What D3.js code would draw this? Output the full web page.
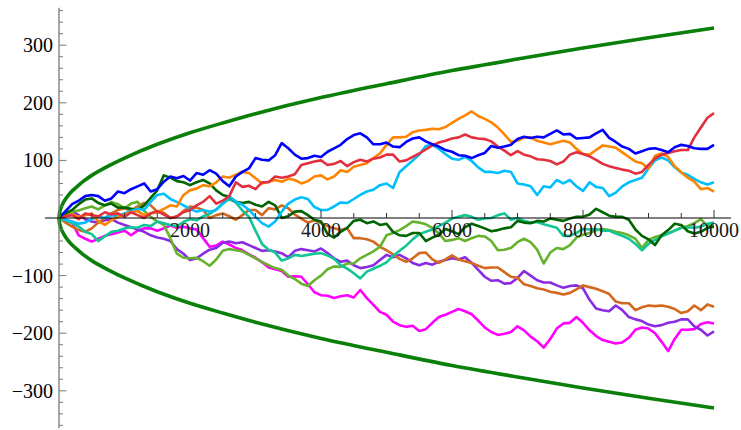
<!DOCTYPE html>
<html>
<head>
<meta charset="utf-8">
<script src="https://cdn.jsdelivr.net/npm/d3@7/dist/d3.min.js"></script>
<style>
  html, body { margin: 0; padding: 0; background: #fff; }
  svg { display: block; }
</style>
</head>
<body>
<svg id="chart" width="741" height="430"></svg>
<script>
// Step index shared by every walk (one sample every 100 steps)
const steps = d3.range(0, 10001, 100);

// Ten random-walk paths, position after each sampled step (rows of 1000 steps)
const walkBlue = [
  0,12,24,30,38,40,38,30,34,46,
  43,50,55,60,46,50,63,72,69,73,
  65,78,75,83,77,64,55,72,80,86,
  104,101,100,109,130,121,110,103,104,108,
  106,115,121,127,137,144,147,140,128,128,
  131,124,123,132,138,140,133,128,124,118,
  115,109,108,104,109,113,125,122,124,127,
  137,141,139,141,140,146,152,145,146,138,
  139,140,147,153,139,132,124,120,112,116,
  120,121,118,114,123,127,125,121,120,120,
  127];
const walkRed = [
  0,3,5,-2,8,5,3,10,6,8,
  2,10,5,0,8,12,6,0,3,10,
  14,22,28,38,25,30,38,62,54,56,
  50,62,62,72,70,72,76,92,95,98,
  100,92,94,99,90,97,101,98,103,105,
  110,110,98,100,106,112,119,126,131,134,
  138,140,145,140,138,137,133,124,117,109,
  116,110,107,102,101,99,93,98,110,114,
  111,107,101,94,90,87,84,82,77,80,
  92,103,110,113,116,118,118,140,157,174,
  182];
const walkOrange = [
  0,3,6,2,5,8,-6,-12,-4,2,
  6,10,12,5,8,10,16,22,20,40,
  48,51,57,55,62,72,70,75,80,78,
  69,60,63,66,63,68,66,60,64,72,
  74,67,72,83,80,89,92,95,104,112,
  127,140,140,141,149,152,153,155,154,158,
  165,172,178,185,177,172,166,157,145,132,
  134,140,140,134,131,128,131,134,131,120,
  111,110,118,126,124,122,114,106,98,95,
  86,108,112,106,90,79,70,63,50,52,
  46];
const walkSky = [
  0,-3,-6,-10,-8,-2,3,0,5,3,
  8,12,16,14,28,40,42,33,28,22,
  16,11,14,11,14,25,38,28,23,14,
  2,-9,-15,-6,11,25,32,36,33,19,
  14,14,20,27,26,33,40,46,49,57,
  60,52,80,90,100,110,125,127,120,111,
  103,101,106,99,88,80,80,78,82,80,
  60,58,55,40,55,53,66,60,66,55,
  47,62,54,52,38,44,55,62,66,70,
  86,100,105,100,88,79,75,68,62,58,
  62];
const walkForest = [
  0,8,14,24,32,34,26,22,25,18,
  18,16,14,22,35,48,74,70,64,62,
  57,62,66,60,48,40,37,28,26,28,
  23,20,28,22,0,3,11,12,5,-3,
  -6,-28,-34,-24,-17,-5,-3,-9,-6,-12,
  -10,-24,-30,-31,-26,-26,-40,-34,-29,-19,
  -23,-28,-16,-10,-14,-18,-23,-21,-18,-16,
  -5,-8,-9,-5,-6,-1,-3,-5,-1,2,
  2,6,16,10,4,2,2,-3,-20,-31,
  -37,-47,-30,-21,-10,-12,-23,-27,-24,-17,
  -15];
const walkTeal = [
  0,-4,-9,-15,-24,-28,-40,-32,-24,-22,
  -18,-16,-17,-12,-14,-6,-9,-12,-14,-7,
  -2,-4,3,7,15,25,33,27,13,2,
  -22,-45,-55,-60,-74,-70,-64,-66,-64,-62,
  -61,-65,-71,-82,-88,-96,-105,-93,-88,-83,
  -77,-66,-57,-48,-37,-28,-24,-20,-14,-8,
  -1,2,5,2,-3,-1,0,5,8,-3,
  0,-5,-8,-7,-11,-14,-17,-31,-31,-26,
  -19,-20,-19,-22,-22,-27,-31,-36,-45,-56,
  -45,-38,-32,-27,-22,-17,-16,-17,-15,-10,
  -8];
const walkLime = [
  0,3,11,13,17,20,15,22,28,24,
  17,25,28,12,2,-6,-12,-35,-62,-69,
  -70,-69,-75,-83,-72,-57,-54,-56,-58,-64,
  -70,-76,-82,-87,-90,-100,-106,-114,-118,-108,
  -100,-89,-84,-85,-79,-79,-70,-64,-58,-50,
  -30,-26,-21,-14,-6,-8,-11,-17,-27,-40,
  -38,-35,-40,-35,-31,-32,-40,-56,-55,-52,
  -42,-36,-42,-55,-79,-60,-52,-54,-47,-34,
  -29,-26,-21,-19,-21,-24,-26,-30,-36,-52,
  -38,-33,-30,-27,-22,-17,-14,-9,-2,-14,
  -12];
const walkBrown = [
  0,-8,-15,-21,-24,-18,-8,0,8,14,
  17,13,20,26,22,11,9,0,2,12,
  20,18,14,0,5,8,3,-3,5,14,
  14,5,17,15,22,17,6,-1,-8,-4,
  -9,-14,-18,-21,-18,-35,-35,-37,-41,-50,
  -56,-63,-71,-76,-70,-61,-60,-72,-78,-72,
  -65,-72,-75,-78,-83,-87,-86,-86,-94,-102,
  -104,-115,-118,-122,-124,-128,-130,-133,-130,-124,
  -117,-120,-123,-127,-132,-145,-148,-148,-160,-155,
  -152,-153,-152,-154,-158,-165,-162,-152,-160,-150,
  -154];
const walkPurple = [
  0,8,12,5,-2,-6,-8,-4,-2,-8,
  -12,-16,-20,-24,-30,-34,-36,-40,-54,-62,
  -73,-70,-62,-55,-52,-43,-41,-44,-42,-47,
  -52,-57,-56,-58,-61,-68,-57,-54,-56,-58,
  -53,-61,-70,-76,-74,-82,-87,-85,-82,-73,
  -64,-68,-64,-70,-78,-82,-78,-81,-76,-73,
  -70,-72,-68,-78,-90,-102,-109,-108,-114,-113,
  -104,-92,-100,-108,-112,-112,-117,-121,-118,-117,
  -122,-142,-157,-160,-162,-152,-160,-172,-176,-179,
  -185,-188,-186,-182,-180,-176,-176,-188,-194,-204,
  -197];
const walkMagenta = [
  0,-3,-8,-30,-36,-41,-36,-31,-28,-25,
  -22,-30,-22,-18,-18,-22,-18,-13,-17,-15,
  -18,-20,-35,-50,-48,-41,-46,-52,-56,-63,
  -69,-77,-86,-89,-92,-102,-101,-102,-115,-129,
  -134,-135,-139,-136,-134,-138,-125,-139,-151,-163,
  -168,-180,-186,-189,-187,-196,-193,-182,-172,-168,
  -163,-158,-162,-167,-178,-190,-198,-203,-201,-198,
  -188,-195,-206,-214,-225,-210,-192,-183,-182,-172,
  -182,-195,-205,-212,-215,-218,-216,-208,-194,-190,
  -192,-200,-215,-231,-210,-194,-194,-193,-184,-181,
  -183];

const walkColors = ["#ff00ff", "#8a2be2", "#d2691e", "#66b22d", "#12c596", "#006400", "#00bfff", "#ff8400", "#e2303e", "#0000ff"];
const walks = [walkMagenta, walkPurple, walkBrown, walkLime, walkTeal, walkForest, walkSky, walkOrange, walkRed, walkBlue];

// Envelope curves (upper and lower bound) sampled at these steps
const envelopeSteps = [0, 10, 25, 50, 100, 175, 250, 375, 500, 750, 1000, 1500, 2000, 2500, 3000, 4000, 5000, 6000, 7000, 8000, 9000, 10000];
const envelopeUpper = [0, 10, 16, 23, 33, 44, 52, 64, 74, 90, 104, 128, 148, 165, 181, 209, 233, 256, 276, 295, 313, 330];
const envelopeLower = [0, -10, -16, -23, -33, -44, -52, -64, -74, -90, -104, -128, -148, -165, -181, -209, -233, -256, -276, -295, -313, -330];

// Axis ticks
const xMajorTicks = [2000, 4000, 6000, 8000, 10000];
const xMinorTicks = d3.range(500, 10001, 500);
const yMajorTicks = [-300, -200, -100, 100, 200, 300];
const yMinorTicks = d3.range(-360, 361, 20);

const labelFont = "'Liberation Serif', 'Times New Roman', Times, 'DejaVu Serif', serif";

const svg = d3.select("#chart");
const x = d3.scaleLinear().domain([0, 10000]).range([59, 714]);
const y = d3.scaleLinear().domain([-300, 300]).range([390.8, 45.2]);

// walks
const walkLine = d3.line()
  .x((d, i) => x(steps[i]))
  .y(d => y(d))
  .curve(d3.curveLinear);

svg.append("g")
  .selectAll("path")
  .data(walks)
  .join("path")
  .attr("d", d => walkLine(d))
  .attr("fill", "none")
  .attr("stroke", (d, i) => walkColors[i])
  .attr("stroke-width", 2.6)
  .attr("stroke-linejoin", "round");

// envelope
const envLine = d3.line()
  .x((d, i) => x(envelopeSteps[i]))
  .y(d => y(d))
  .curve(d3.curveMonotoneY);
[envelopeUpper, envelopeLower].forEach(env => {
  svg.append("path")
    .attr("d", envLine(env))
    .attr("fill", "none")
    .attr("stroke", "#0a7f0a")
    .attr("stroke-width", 3.6);
});

// vertical axis (grey) with major and minor ticks
const yAxisG = svg.append("g");
yAxisG.append("line")
  .attr("x1", x(0)).attr("x2", x(0))
  .attr("y1", y(365)).attr("y2", y(-365))
  .attr("stroke", "#7a7a7a").attr("stroke-width", 1.3);
yAxisG.selectAll("line.minor")
  .data(yMinorTicks.filter(v => v % 100 !== 0))
  .join("line")
  .attr("class", "minor")
  .attr("x1", x(0)).attr("x2", x(0) + 4)
  .attr("y1", d => y(d)).attr("y2", d => y(d))
  .attr("stroke", "#7a7a7a").attr("stroke-width", 1);
yAxisG.selectAll("line.major")
  .data(yMajorTicks)
  .join("line")
  .attr("class", "major")
  .attr("x1", x(0)).attr("x2", x(0) + 7.5)
  .attr("y1", d => y(d)).attr("y2", d => y(d))
  .attr("stroke", "#7a7a7a").attr("stroke-width", 1);
yAxisG.selectAll("text")
  .data(yMajorTicks)
  .join("text")
  .attr("font-family", labelFont)
  .attr("font-size", 20)
  .attr("x", x(0) - 6)
  .attr("y", d => y(d))
  .attr("dy", "0.35em")
  .attr("text-anchor", "end")
  .attr("fill", "#000")
  .text(d => d < 0 ? "\u2212" + Math.abs(d) : d);

// horizontal axis (black) with ticks above the line
const xAxisG = svg.append("g");
xAxisG.append("line")
  .attr("x1", x(-215)).attr("x2", x(10260))
  .attr("y1", y(0)).attr("y2", y(0))
  .attr("stroke", "#000").attr("stroke-width", 1.1);
xAxisG.selectAll("line.tick")
  .data(xMinorTicks)
  .join("line")
  .attr("class", "tick")
  .attr("x1", d => x(d)).attr("x2", d => x(d))
  .attr("y1", y(0))
  .attr("y2", d => y(0) - (d % 2000 === 0 ? 8 : 5))
  .attr("stroke", "#333").attr("stroke-width", 1);
xAxisG.selectAll("text")
  .data(xMajorTicks)
  .join("text")
  .attr("font-family", labelFont)
  .attr("font-size", 20)
  .attr("x", d => x(d))
  .attr("y", y(0) + 19)
  .attr("text-anchor", "middle")
  .attr("fill", "#1a1a1a")
  .text(d => d);
</script>
</body>
</html>
